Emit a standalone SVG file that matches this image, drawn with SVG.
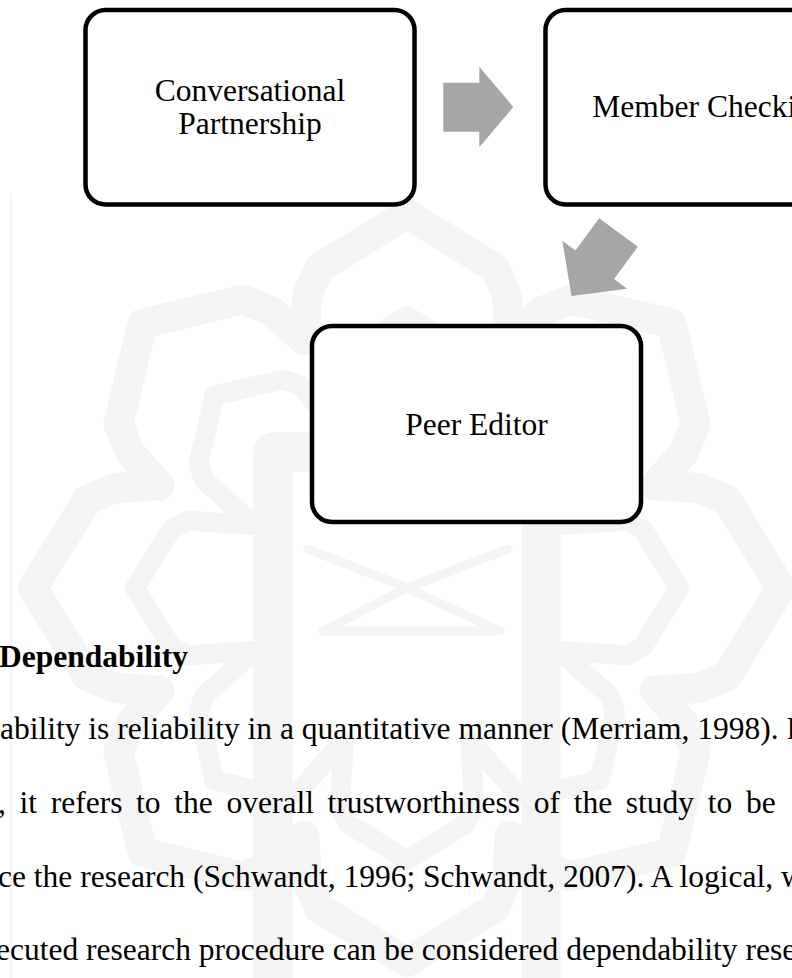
<svg xmlns="http://www.w3.org/2000/svg" xmlns:xlink="http://www.w3.org/1999/xlink" width="792" height="978" viewBox="0 0 792 978">
  <style>
    .wm { fill: none; stroke: #f4f4f4; stroke-linejoin: round; stroke-linecap: round; }
    .node rect { fill: #ffffff; stroke: #000000; stroke-width: 4.5; }
    .label { font-family: "Liberation Serif", "Times New Roman", serif; font-size: 31.5px; fill: #000000; text-anchor: middle; }
    .body { font-family: "Liberation Serif", "Times New Roman", serif; font-size: 31.5px; fill: #000000; }
    .heading { font-weight: bold; }
    .flow { fill: #a6a6a6; stroke: none; }
  </style>
  <defs>
    <path id="petal-outer" d="M-102.6,-247.6 L-100,-292 L-88,-320 L0,-374 L88,-320 L100,-292 L102.6,-247.6"/>
    <path id="petal-inner" d="M-63.1,-152.4 L-67.3,-219.9 L-58.8,-235.8 L0,-272 L58.8,-235.8 L67.3,-219.9 L63.1,-152.4"/>
  </defs>

  <rect width="792" height="978" fill="#ffffff"/>

  <!-- faint background emblem -->
  <g id="emblem" transform="translate(407,588)">
    <g class="wm" stroke-width="30">
      <use xlink:href="#petal-outer"/>
      <use xlink:href="#petal-outer" transform="rotate(45)"/>
      <use xlink:href="#petal-outer" transform="rotate(90)"/>
      <use xlink:href="#petal-outer" transform="rotate(135)"/>
      <use xlink:href="#petal-outer" transform="rotate(180)"/>
      <use xlink:href="#petal-outer" transform="rotate(225)"/>
      <use xlink:href="#petal-outer" transform="rotate(270)"/>
      <use xlink:href="#petal-outer" transform="rotate(315)"/>
    </g>
    <g class="wm" stroke-width="20">
      <use xlink:href="#petal-inner"/>
      <use xlink:href="#petal-inner" transform="rotate(45)"/>
      <use xlink:href="#petal-inner" transform="rotate(90)"/>
      <use xlink:href="#petal-inner" transform="rotate(135)"/>
      <use xlink:href="#petal-inner" transform="rotate(180)"/>
      <use xlink:href="#petal-inner" transform="rotate(225)"/>
      <use xlink:href="#petal-inner" transform="rotate(270)"/>
      <use xlink:href="#petal-inner" transform="rotate(315)"/>
    </g>
    <path class="wm" stroke-width="39" stroke-linejoin="miter" stroke-linecap="butt" d="M-134,400 L-134,-136 L134,-136 L134,400"/>
    <g class="wm" stroke-width="9">
      <path d="M-99,-39 L0,0 L101,-39"/>
      <path d="M-84,43 L0,0 L93,43"/>
      <path d="M-84,43 L93,43"/>
    </g>
  </g>
  <line x1="11" y1="193" x2="11" y2="978" stroke="#f0f0f0" stroke-width="1.5"/>

  <!-- connectors -->
  <g id="connectors">
    <polygon class="flow" points="443.3,82.7 479.3,82.7 479.3,66.7 513.3,107 479.3,147.3 479.3,131.7 443.3,131.7"/>
    <polygon class="flow" points="599.2,218.2 637.8,246.8 614,279 627.1,288.7 571.5,296 562.3,240.7 575.4,250.4"/>
  </g>

  <!-- nodes -->
  <g id="conversational-partnership" class="node">
    <rect x="85.5" y="10" width="329" height="194.5" rx="20" ry="20"/>
    <text class="label" x="250" y="101">Conversational</text>
    <text class="label" x="250" y="133.5">Partnership</text>
  </g>
  <g id="member-checking" class="node">
    <rect x="545.5" y="10" width="329" height="194.5" rx="20" ry="20"/>
    <text class="label" x="710" y="117">Member Checking</text>
  </g>
  <g id="peer-editor" class="node">
    <rect x="312" y="326" width="329" height="196" rx="20" ry="20"/>
    <text class="label" x="476.5" y="434.5">Peer Editor</text>
  </g>

  <!-- running text -->
  <g id="paragraph">
    <text class="body heading" x="-1" y="667">Dependability</text>
    <text class="body" x="0" y="739">ability is reliability in a quantitative manner (Merriam, 1998). F</text>
    <text class="body" x="-2" y="813" word-spacing="5.8">, it refers to the overall trustworthiness of the study to be</text>
    <text class="body" x="-2" y="886.5">ce the research (Schwandt, 1996; Schwandt, 2007). A logical, w</text>
    <text class="body" x="-4" y="960">ecuted research procedure can be considered dependability rese</text>
  </g>
</svg>
